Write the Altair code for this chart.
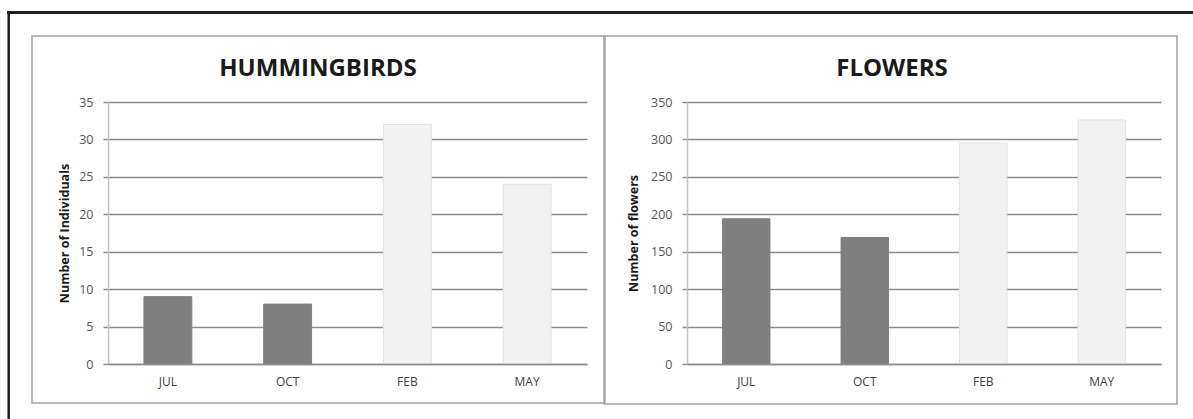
import altair as alt
import pandas as pd

# Survey months and counts per month
months = ["JUL", "OCT", "FEB", "MAY"]
hummingbirds = [9, 8, 32, 24]
flowers = [194, 169, 295, 326]
dark_months = ["JUL", "OCT"]

FONT = "Open Sans"
GRID = "#8c8c8c"


def panel(title, values, ytitle, ymax, ystep, width, title_x, ytitle_x, box, frame=False):
    df = pd.DataFrame({"month": months, "count": values})
    pred = alt.FieldOneOfPredicate(field="month", oneOf=dark_months)

    bars = alt.Chart(df).mark_bar().encode(
        x=alt.X(
            "month:N",
            sort=months,
            scale=alt.Scale(paddingInner=0.6, paddingOuter=0.3),
            axis=alt.Axis(
                title="",
                labelAngle=0,
                ticks=False,
                grid=False,
                domainColor=GRID,
                domainWidth=1.5,
                labelFont=FONT,
                labelFontSize=12,
                labelColor="#404040",
                labelPadding=12,
                zindex=1,
            ),
        ),
        y=alt.Y(
            "count:Q",
            scale=alt.Scale(domain=[0, ymax], nice=False),
            axis=alt.Axis(
                values=list(range(0, ymax + 1, ystep)),
                grid=True,
                gridColor=GRID,
                gridWidth=1.5,
                tickColor=GRID,
                tickWidth=1.5,
                tickSize=5,
                domainColor="#c4c4c4",
                domainWidth=1.5,
                labelFont=FONT,
                labelFontSize=12.5,
                labelColor="#555555",
                labelPadding=10,
                title=ytitle,
                titleFont=FONT,
                titleFontSize=12.5,
                titleFontWeight="bold",
                titleColor="#1a1a1a",
                titleX=ytitle_x,
                titleY=131,
                titleAngle=270,
                titleAlign="center",
                titleBaseline="middle",
            ),
        ),
        color=alt.condition(pred, alt.value("#7f7f7f"), alt.value("#f2f2f2")),
        stroke=alt.condition(pred, alt.value("#7f7f7f"), alt.value("#e2e2e2")),
    ).properties(width=width, height=262)

    deco = pd.DataFrame({"panel": [title]})
    bx0, bx1, by0, by1 = box
    outline = alt.Chart(deco).mark_rect(
        fill="transparent", stroke="#a3a3a3", strokeWidth=1.5
    ).encode(
        x=alt.value(bx0), x2=alt.value(bx1), y=alt.value(by0), y2=alt.value(by1)
    )
    heading = alt.Chart(deco).mark_text(
        font=FONT, fontSize=24, fontWeight="bold", color="#1a1a1a",
        align="center", baseline="alphabetic"
    ).encode(x=alt.value(title_x), y=alt.value(-26), text="panel:N")

    layers = [outline, bars, heading]
    if frame:
        top = alt.Chart(deco).mark_rule(color="#1e1e1e", strokeWidth=3).encode(
            x=alt.value(-101), x2=alt.value(1095), y=alt.value(-89.5)
        )
        side = alt.Chart(deco).mark_rule(color="#1e1e1e", strokeWidth=2.5).encode(
            x=alt.value(-99.3), y=alt.value(-91), y2=alt.value(330)
        )
        layers = [top, side] + layers
    return alt.layer(*layers)


left = panel("HUMMINGBIRDS", hummingbirds, "Number of Individuals", 35, 5,
             479, 210, -44, (-76, 497, -66, 301), frame=True)
right = panel("FLOWERS", flowers, "Number of flowers", 350, 50,
              474, 205, -54, (-83, 490, -66, 302))

chart = alt.hconcat(left, right, spacing=100, bounds="flush").properties(
    autosize=alt.AutoSizeParams(type="none"),
    padding={"left": 108, "top": 102, "right": 1085, "bottom": 317},
    background="white",
).configure_view(strokeWidth=0)

chart.save("out.html", embed_options={"renderer": "svg", "actions": False})
